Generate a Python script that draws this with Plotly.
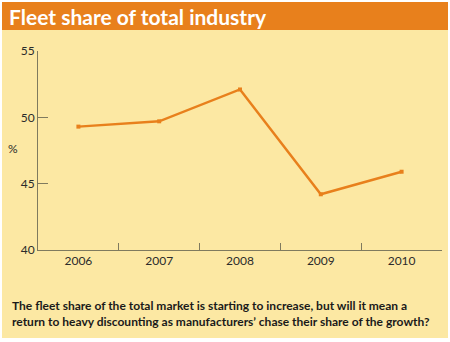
import plotly.graph_objects as go

years = ["2006", "2007", "2008", "2009", "2010"]
share = [49.3, 49.7, 52.1, 44.2, 45.9]
y_ticks = [40, 45, 50, 55]

W, H = 450, 342
L, R, T, B = 38, 8, 51, 92
pw = W - L - R
ph = H - T - B

def px(x):
    return (x - L) / pw

def py(y):
    return (H - B - y) / ph

ORANGE = "#E8801C"
YELLOW = "#FCE8A3"
AXIS = "#7f7a5e"
FONT = "Lato"

fig = go.Figure()
fig.add_trace(go.Scatter(
    x=years, y=share, mode="lines+markers",
    line=dict(color=ORANGE, width=2.4),
    marker=dict(symbol="square", size=4, color=ORANGE),
    hoverinfo="skip", showlegend=False,
))

fig.update_layout(
    width=W, height=H,
    margin=dict(l=L, r=R, t=T, b=B),
    paper_bgcolor="white",
    plot_bgcolor=YELLOW,
    font=dict(family=FONT, color="#2b2b2b", size=12),
    xaxis=dict(
        type="category", range=[-0.5, 4.5],
        showline=True, linecolor=AXIS, linewidth=1,
        ticks="inside", tickson="boundaries", ticklen=7, tickcolor=AXIS,
        showgrid=False, zeroline=False, fixedrange=True,
        tickfont=dict(family=FONT, size=12, color="#2b2b2b"),
    ),
    yaxis=dict(
        range=[40, 55], tickvals=y_ticks, ticktext=[str(v) for v in y_ticks],
        showline=True, linecolor=AXIS, linewidth=1,
        ticks="inside", ticklen=10, tickcolor=AXIS,
        showgrid=False, zeroline=False, fixedrange=True,
        tickfont=dict(family=FONT, size=12, color="#2b2b2b"),
    ),
    shapes=[
        dict(type="rect", xref="paper", yref="paper", layer="below",
             x0=px(2), x1=px(448), y0=py(30), y1=py(338),
             fillcolor=YELLOW, line=dict(width=0)),
        dict(type="rect", xref="paper", yref="paper", layer="below",
             x0=px(2), x1=px(448), y0=py(2), y1=py(30),
             fillcolor=ORANGE, line=dict(width=0)),
    ],
    annotations=[
        dict(text="<b>Fleet share of total industry</b>", xref="paper", yref="paper",
             x=px(7), y=py(16), xanchor="left", yanchor="middle", showarrow=False,
             font=dict(family=FONT, size=21, color="white")),
        dict(text="%", xref="paper", yref="paper", x=px(13), y=py(148),
             xanchor="center", yanchor="middle", showarrow=False,
             font=dict(family=FONT, size=12, color="#2b2b2b")),
        dict(text="<b>The fleet share of the total market is starting to increase, but will it mean a<br>"
                  "return to heavy discounting as manufacturers’ chase their share of the growth?</b>",
             xref="paper", yref="paper", x=px(10), y=py(296), xanchor="left", yanchor="top",
             align="left", showarrow=False,
             font=dict(family=FONT, size=12, color="#1a1a1a")),
    ],
)

fig.write_html("out.html")
